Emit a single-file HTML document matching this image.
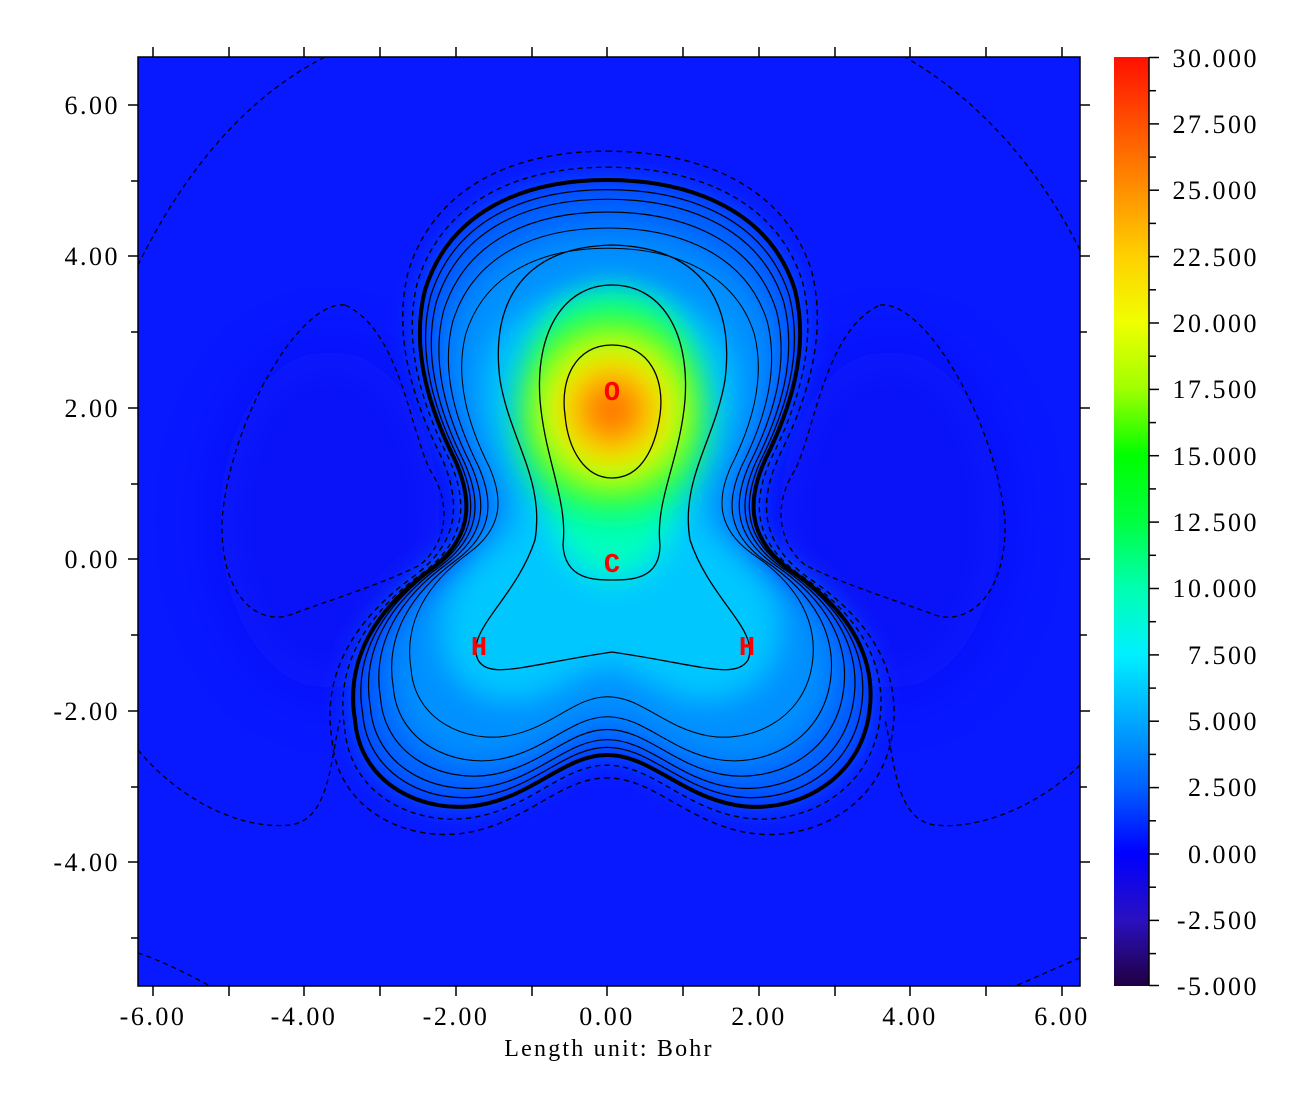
<!DOCTYPE html>
<html><head><meta charset="utf-8"><style>
html,body{margin:0;padding:0;background:#fff;}
svg{display:block;font-family:"Liberation Serif",serif;}
</style></head><body>
<svg width="1310" height="1105" viewBox="0 0 1310 1105" xmlns="http://www.w3.org/2000/svg">
<defs>
<clipPath id="pc"><rect x="138" y="57" width="942" height="929"/></clipPath>
<filter id="bl" x="-50%" y="-50%" width="200%" height="200%"><feGaussianBlur stdDeviation="15"/></filter>
<filter id="bl2" x="-50%" y="-50%" width="200%" height="200%"><feGaussianBlur stdDeviation="30"/></filter>
<linearGradient id="cb" x1="0" y1="1" x2="0" y2="0">
<stop offset="0" stop-color="#200040"/>
<stop offset="0.0714" stop-color="#2a10c0"/>
<stop offset="0.1429" stop-color="#0000ff"/>
<stop offset="0.2143" stop-color="#0060ff"/>
<stop offset="0.2857" stop-color="#00a8ff"/>
<stop offset="0.3571" stop-color="#00f0ff"/>
<stop offset="0.4286" stop-color="#00ffb0"/>
<stop offset="0.5" stop-color="#00ff40"/>
<stop offset="0.5714" stop-color="#00ff00"/>
<stop offset="0.6429" stop-color="#a0ff00"/>
<stop offset="0.7143" stop-color="#f0ff00"/>
<stop offset="0.7857" stop-color="#ffd000"/>
<stop offset="0.8571" stop-color="#ff9000"/>
<stop offset="0.9286" stop-color="#ff5000"/>
<stop offset="1" stop-color="#ff1000"/>
</linearGradient>
<radialGradient id="og" cx="612" cy="410" r="125" gradientUnits="userSpaceOnUse">
<stop offset="0" stop-color="#ff5000"/>
<stop offset="0.25" stop-color="#ffa000"/>
<stop offset="0.45" stop-color="#f0ff00"/>
<stop offset="0.7" stop-color="#20ff20"/>
<stop offset="1" stop-color="#00ff80" stop-opacity="0"/>
</radialGradient>
<path id="outer" d="M607,180 C690,180 770,210 795,290 C810,350 790,410 765,460 C745,505 750,540 790,570 C850,610 880,660 868,720 C855,785 790,815 735,805 C680,795 650,755 607,755 C565,755 535,795 480,805 C425,815 360,785 355,720 C345,660 375,610 430,570 C470,540 475,505 455,460 C430,410 410,350 425,290 C450,210 525,180 607,180 Z"/>
</defs>
<g clip-path="url(#pc)">
<rect x="138" y="57" width="942" height="929" fill="#0818ff"/>
<ellipse cx="330" cy="520" rx="110" ry="170" fill="#1008f0" opacity="0.5" filter="url(#bl2)"/>
<ellipse cx="890" cy="520" rx="110" ry="170" fill="#1008f0" opacity="0.5" filter="url(#bl2)"/>
<g filter="url(#bl)">
<use href="#outer" fill="#0060ff"/>
<use href="#outer" fill="#0090ff" transform="translate(610,520) scale(0.85) translate(-610,-520)"/>
<use href="#outer" fill="#00c8ff" transform="translate(610,500) scale(0.65) translate(-610,-500)"/>
<path d="M612,290 C690,290 700,380 680,450 C665,500 690,560 612,580 C535,560 560,500 545,450 C525,380 535,290 612,290 Z" fill="#00ffc0"/>
</g>
<ellipse cx="612" cy="420" rx="95" ry="130" fill="url(#og)" filter="url(#bl)"/>
<g fill="none" stroke="#000" stroke-width="1.3">
<use href="#outer" stroke-width="4"/>
<use href="#outer" transform="translate(610,500) scale(0.97) translate(-610,-500)"/>
<use href="#outer" transform="translate(610,500) scale(0.94) translate(-610,-500)"/>
<use href="#outer" transform="translate(610,500) scale(0.90) translate(-610,-500)"/>
<use href="#outer" transform="translate(610,500) scale(0.85) translate(-610,-500)"/>
<use href="#outer" transform="translate(610,490) scale(0.78) translate(-610,-490)"/>
<path d="M612,245 C700,247 735,300 725,380 C715,440 680,480 690,540 C710,600 760,630 748,660 C735,680 700,665 612,652 C525,665 490,680 478,660 C465,630 515,600 535,540 C545,480 510,440 500,380 C490,300 525,247 612,245 Z"/>
<path d="M612,345 C650,345 665,380 660,415 C655,450 640,478 612,478 C585,478 568,450 565,415 C560,380 575,345 612,345 Z"/>
<path d="M612,285 C660,285 690,330 685,400 C680,460 655,500 660,545 C660,580 630,580 612,580 C595,580 565,580 563,545 C568,500 545,460 540,400 C535,330 565,285 612,285 Z"/>
</g>
<g fill="none" stroke="#000" stroke-width="1.3" stroke-dasharray="5,4">
<use href="#outer" transform="translate(610,500) scale(1.04) translate(-610,-500)"/>
<use href="#outer" transform="translate(610,500) scale(1.09) translate(-610,-500)"/>
<path d="M345,305 C300,300 230,420 222,520 C220,600 260,625 290,615 C330,600 380,585 420,565 C450,540 450,500 430,470 C410,430 400,330 345,305 Z"/>
<path d="M880,305 C925,300 995,420 1005,520 C1007,600 965,625 935,615 C895,600 845,585 805,565 C775,540 775,500 795,470 C815,430 825,330 880,305 Z"/>
<path d="M138,265 C180,180 240,100 325,57"/>
<path d="M1080,250 C1040,170 980,100 905,57"/>
<path d="M138,750 C180,800 240,830 290,825 C330,820 330,760 340,720"/>
<path d="M1080,765 C1040,805 980,830 935,825 C895,820 895,760 885,720"/>
<path d="M138,953 C160,960 190,975 210,986"/>
<path d="M1080,958 C1060,966 1035,978 1015,986"/>
</g>
</g>
<rect x="138" y="57" width="942" height="929" fill="none" stroke="#000" stroke-width="1.5"/>
<g font-family="Liberation Mono,monospace" font-weight="bold" font-size="27" fill="#ff0000" text-anchor="middle">
<text x="612" y="400">O</text><text x="612" y="572">C</text><text x="479" y="655">H</text><text x="747" y="655">H</text>
</g>
<g stroke="#000" stroke-width="1.5">
<line x1="153" y1="47" x2="153" y2="57"/><line x1="229" y1="47" x2="229" y2="57"/><line x1="304" y1="47" x2="304" y2="57"/><line x1="380" y1="47" x2="380" y2="57"/><line x1="456" y1="47" x2="456" y2="57"/><line x1="532" y1="47" x2="532" y2="57"/><line x1="607" y1="47" x2="607" y2="57"/><line x1="683" y1="47" x2="683" y2="57"/><line x1="759" y1="47" x2="759" y2="57"/><line x1="835" y1="47" x2="835" y2="57"/><line x1="910" y1="47" x2="910" y2="57"/><line x1="986" y1="47" x2="986" y2="57"/><line x1="1062" y1="47" x2="1062" y2="57"/>
<line x1="153" y1="986" x2="153" y2="996"/><line x1="229" y1="986" x2="229" y2="996"/><line x1="304" y1="986" x2="304" y2="996"/><line x1="380" y1="986" x2="380" y2="996"/><line x1="456" y1="986" x2="456" y2="996"/><line x1="532" y1="986" x2="532" y2="996"/><line x1="607" y1="986" x2="607" y2="996"/><line x1="683" y1="986" x2="683" y2="996"/><line x1="759" y1="986" x2="759" y2="996"/><line x1="835" y1="986" x2="835" y2="996"/><line x1="910" y1="986" x2="910" y2="996"/><line x1="986" y1="986" x2="986" y2="996"/><line x1="1062" y1="986" x2="1062" y2="996"/>
<line x1="128" y1="105" x2="138" y2="105"/><line x1="131" y1="181" x2="138" y2="181"/><line x1="128" y1="256" x2="138" y2="256"/><line x1="131" y1="332" x2="138" y2="332"/><line x1="128" y1="408" x2="138" y2="408"/><line x1="131" y1="484" x2="138" y2="484"/><line x1="128" y1="559" x2="138" y2="559"/><line x1="131" y1="635" x2="138" y2="635"/><line x1="128" y1="711" x2="138" y2="711"/><line x1="131" y1="787" x2="138" y2="787"/><line x1="128" y1="862" x2="138" y2="862"/><line x1="131" y1="938" x2="138" y2="938"/>
<line x1="1080" y1="105" x2="1090" y2="105"/><line x1="1080" y1="181" x2="1087" y2="181"/><line x1="1080" y1="256" x2="1090" y2="256"/><line x1="1080" y1="332" x2="1087" y2="332"/><line x1="1080" y1="408" x2="1090" y2="408"/><line x1="1080" y1="484" x2="1087" y2="484"/><line x1="1080" y1="559" x2="1090" y2="559"/><line x1="1080" y1="635" x2="1087" y2="635"/><line x1="1080" y1="711" x2="1090" y2="711"/><line x1="1080" y1="787" x2="1087" y2="787"/><line x1="1080" y1="862" x2="1090" y2="862"/><line x1="1080" y1="938" x2="1087" y2="938"/>
</g>
<g font-size="26" fill="#000" letter-spacing="2.5">
<g text-anchor="end">
<text x="120" y="114">6.00</text><text x="120" y="265">4.00</text><text x="120" y="417">2.00</text><text x="120" y="568">0.00</text><text x="120" y="720">-2.00</text><text x="120" y="871">-4.00</text>
</g>
<g text-anchor="middle">
<text x="153" y="1025">-6.00</text><text x="304" y="1025">-4.00</text><text x="456" y="1025">-2.00</text><text x="607" y="1025">0.00</text><text x="759" y="1025">2.00</text><text x="910" y="1025">4.00</text><text x="1062" y="1025">6.00</text>
<text x="609" y="1056" font-size="24" letter-spacing="2.2">Length unit: Bohr</text>
</g>
</g>
<rect x="1114" y="57" width="35" height="929" fill="url(#cb)"/>
<line x1="1149" y1="57" x2="1149" y2="986" stroke="#000" stroke-width="1.5"/>
<g stroke="#000" stroke-width="1.5">
<line x1="1149" y1="57.5" x2="1159" y2="57.5"/><line x1="1149" y1="90.7" x2="1156" y2="90.7"/><line x1="1149" y1="123.9" x2="1159" y2="123.9"/><line x1="1149" y1="157.1" x2="1156" y2="157.1"/><line x1="1149" y1="190.2" x2="1159" y2="190.2"/><line x1="1149" y1="223.4" x2="1156" y2="223.4"/><line x1="1149" y1="256.6" x2="1159" y2="256.6"/><line x1="1149" y1="289.8" x2="1156" y2="289.8"/><line x1="1149" y1="323" x2="1159" y2="323"/><line x1="1149" y1="356.2" x2="1156" y2="356.2"/><line x1="1149" y1="389.4" x2="1159" y2="389.4"/><line x1="1149" y1="422.6" x2="1156" y2="422.6"/><line x1="1149" y1="455.7" x2="1159" y2="455.7"/><line x1="1149" y1="488.9" x2="1156" y2="488.9"/><line x1="1149" y1="522.1" x2="1159" y2="522.1"/><line x1="1149" y1="555.3" x2="1156" y2="555.3"/><line x1="1149" y1="588.5" x2="1159" y2="588.5"/><line x1="1149" y1="621.7" x2="1156" y2="621.7"/><line x1="1149" y1="654.9" x2="1159" y2="654.9"/><line x1="1149" y1="688.1" x2="1156" y2="688.1"/><line x1="1149" y1="721.2" x2="1159" y2="721.2"/><line x1="1149" y1="754.4" x2="1156" y2="754.4"/><line x1="1149" y1="787.6" x2="1159" y2="787.6"/><line x1="1149" y1="820.8" x2="1156" y2="820.8"/><line x1="1149" y1="854" x2="1159" y2="854"/><line x1="1149" y1="887.2" x2="1156" y2="887.2"/><line x1="1149" y1="920.4" x2="1159" y2="920.4"/><line x1="1149" y1="953.6" x2="1156" y2="953.6"/><line x1="1149" y1="985.5" x2="1159" y2="985.5"/>
</g>
<g font-size="26" fill="#000" text-anchor="end" letter-spacing="2.5">
<text x="1259" y="67">30.000</text><text x="1259" y="133">27.500</text><text x="1259" y="199">25.000</text><text x="1259" y="266">22.500</text><text x="1259" y="332">20.000</text><text x="1259" y="398">17.500</text><text x="1259" y="465">15.000</text><text x="1259" y="531">12.500</text><text x="1259" y="597">10.000</text><text x="1259" y="664">7.500</text><text x="1259" y="730">5.000</text><text x="1259" y="796">2.500</text><text x="1259" y="863">0.000</text><text x="1259" y="929">-2.500</text><text x="1259" y="995">-5.000</text>
</g>
</svg>
</body></html>
